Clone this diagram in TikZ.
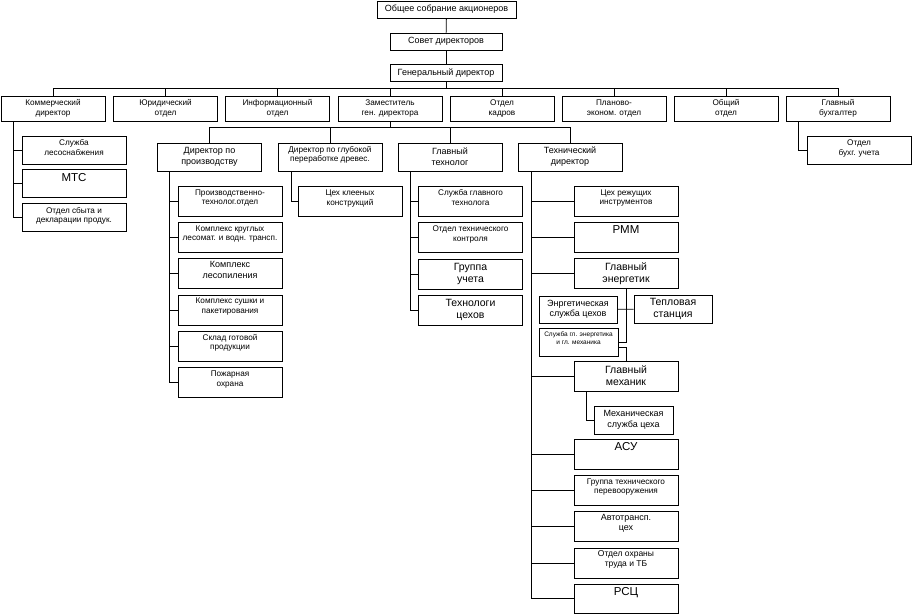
\documentclass[tikz,border=0pt]{standalone}
\usepackage{fontspec}
\setmainfont{Liberation Sans}
\usetikzlibrary{positioning}

\begin{document}
\begin{tikzpicture}[
  x=1pt, y=-1pt,
  node distance=5.5pt,
  unit/.style={draw, rectangle, line width=0.8pt, minimum width=104pt, minimum height=30pt, align=center, inner sep=1.5pt, font=\fontsize{8.2}{9.5}\selectfont},
  sub/.style={unit, text depth=8pt},
  topbox/.style={unit, minimum height=17pt, font=\fontsize{9}{11}\selectfont},
  head/.style={unit, minimum height=25pt},
  chief/.style={unit, minimum height=28pt, font=\fontsize{9}{11}\selectfont},
  narrow/.style={unit, minimum width=78pt, minimum height=28pt},
  bigtext/.style={font=\fontsize{10.5}{12}\selectfont},
  abbr/.style={font=\fontsize{11.5}{13}\selectfont, text height=10pt, text depth=15pt},
  link/.style={line width=0.8pt},
]
\useasboundingbox (0,0) rectangle (912,613);

% top of the company
\node[topbox, minimum width=139pt] (gsa) at (446.5,9.5) {Общее собрание акционеров};
\node[topbox, minimum width=112pt] (sd) at (446,41.5) {Совет директоров};
\node[topbox, minimum width=112pt] (gd) at (446,73) {Генеральный директор};

% second level
\node[head] (kom) at (53,108.5) {Коммерческий\\директор};
\node[head] (jur) at (165.5,108.5) {Юридический\\отдел};
\node[head] (inf) at (277.5,108.5) {Информационный\\отдел};
\node[head] (zam) at (390,108.5) {Заместитель\\ген. директора};
\node[head] (kad) at (502,108.5) {Отдел\\кадров};
\node[head] (plan) at (614,108.5) {Планово-\\эконом. отдел};
\node[head] (obsh) at (726,108.5) {Общий\\отдел};
\node[head] (buh) at (838,108.5) {Главный\\бухгалтер};

% commercial director
\node[unit, minimum height=28pt, text depth=5pt] (les) at (74,150) {Служба\\лесоснабжения};
\node[unit, minimum height=28pt, abbr, below=5pt of les] (mts) {МТС};
\node[unit, minimum height=28pt, text depth=5pt, below=5pt of mts] (sbyt) {Отдел сбыта и\\декларации продук.};

% deputy general director
\node[chief] (dp) at (209.5,157) {Директор по\\производству};
\node[chief, font=\fontsize{8.2}{9.5}\selectfont, text depth=6pt] (gp) at (330,157) {Директор по глубокой\\переработке древес.};
\node[chief] (gt) at (450,157) {Главный\\технолог};
\node[chief] (td) at (570,157) {Технический\\директор};

% production
\node[sub] (pto) at (230,201) {Производственно-\\технолог.отдел};
\node[sub, below=of pto] (kkl) {Комплекс круглых\\лесомат. и водн. трансп.};
\node[sub, font=\fontsize{9}{11}\selectfont, below=of kkl] (klp) {Комплекс\\лесопиления};
\node[sub, below=of klp] (ksp) {Комплекс сушки и\\пакетирования};
\node[sub, below=of ksp] (sgp) {Склад готовой\\продукции};
\node[sub, below=of sgp] (poh) {Пожарная\\охрана};

% deep processing
\node[sub] (ckk) at (350,201.5) {Цех клееных\\конструкций};

% chief technologist
\node[sub] (sgt) at (470.5,201.5) {Служба главного\\технолога};
\node[sub, below=of sgt] (otk) {Отдел технического\\контроля};
\node[unit, bigtext, below=of otk] (gru) {Группа\\учета};
\node[unit, bigtext, text depth=4pt, below=of gru] (tcx) {Технологи\\цехов};

% technical director
\node[sub] (cri) at (626,201) {Цех режущих\\инструментов};
\node[unit, abbr, text depth=17pt, below=of cri] (rmm) {РММ};
\node[unit, bigtext, below=of rmm] (ge) {Главный\\энергетик};
\node[narrow, minimum height=27pt, font=\fontsize{9}{10.5}\selectfont] (esc) at (578,309.5) {Энргетическая\\служба цехов};
\node[narrow, bigtext] (tep) at (673,309) {Тепловая\\станция};
\node[narrow, minimum width=79pt, text depth=8pt, font=\fontsize{6.5}{7.5}\selectfont] (sge) at (578.5,342) {Служба гл. энергетика\\и гл. механика};
\node[unit, bigtext] (meh) at (626,376) {Главный\\механик};
\node[narrow, minimum width=79pt, font=\fontsize{9}{10.5}\selectfont] (msc) at (633.5,420) {Механическая\\служба цеха};
\node[unit, abbr, text depth=17pt] (asu) at (626,454) {АСУ};
\node[sub, below=of asu] (grp) {Группа технического\\перевооружения};
\node[sub, font=\fontsize{9}{10.5}\selectfont, below=of grp] (avt) {Автотрансп.\\цех};
\node[sub, font=\fontsize{8.5}{10}\selectfont, below=of avt] (oht) {Отдел охраны\\труда и ТБ};
\node[unit, abbr, minimum height=29pt, text depth=16pt, below=of oht] (rsc) {РСЦ};

% chief accountant
\node[unit, minimum height=28pt, text depth=5pt] (obu) at (859,150) {Отдел\\бухг. учета};

% connectors
\draw[link] (gsa) -- (sd);
\draw[link] (sd) -- (gd);
\draw[link] (gd.south) -- ++(0,7.5);
\draw[link] (kom.north) -- ++(0,-7) -| (buh.north);
\foreach \n in {jur,inf,zam,kad,plan,obsh}
  \draw[link] (\n.north) -- ++(0,-7);

\draw[link] (zam.south) -- ++(0,7);
\draw[link] (dp.north) -- ++(0,-15) -| (td.north);
\foreach \n in {gp,gt}
  \draw[link] (\n.north) -- ++(0,-15);

\foreach \c in {les,mts,sbyt}
  \draw[link] ([xshift=13pt]kom.south west) |- (\c.west);
\foreach \c in {pto,kkl,klp,ksp,sgp,poh}
  \draw[link] ([xshift=12.5pt]dp.south west) |- (\c.west);
\draw[link] ([xshift=13.5pt]gp.south west) |- (ckk.west);
\foreach \c in {sgt,otk,gru,tcx}
  \draw[link] ([xshift=13pt]gt.south west) |- (\c.west);
\foreach \c in {cri,rmm,ge,meh,asu,grp,avt,oht,rsc}
  \draw[link] ([xshift=14pt]td.south west) |- (\c.west);

\draw[link] (ge.south) |- (sge.east);
\draw[link] (esc) -- (tep);
\draw[link] ([yshift=-5pt]sge.east) -| (meh.north);
\draw[link] ([xshift=13pt]meh.south west) |- (msc.west);
\draw[link] ([xshift=13pt]buh.south west) |- (obu.west);
\end{tikzpicture}
\end{document}
